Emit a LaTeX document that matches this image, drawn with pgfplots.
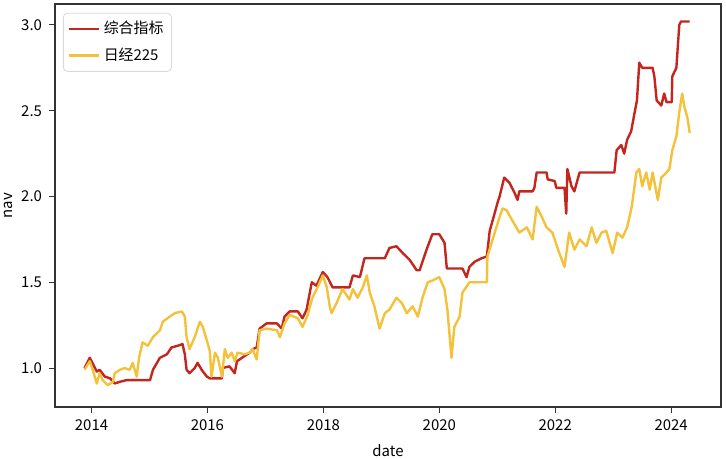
\documentclass[border=0pt]{standalone}
\usepackage{fontspec}
\setmainfont{Noto Sans CJK SC}
\usepackage{pgfplots}
\pgfplotsset{compat=1.18}

\definecolor{navred}{HTML}{C4261D}
\definecolor{nkyellow}{HTML}{F3C13A}

\pgfplotstableread{
year nav
2013.88 1.00
2013.97 1.06
2014.09 0.98
2014.14 0.99
2014.23 0.95
2014.32 0.94
2014.40 0.91
2014.49 0.92
2014.61 0.93
2015.01 0.93
2015.06 0.99
2015.18 1.06
2015.30 1.08
2015.38 1.12
2015.49 1.13
2015.57 1.14
2015.61 1.08
2015.64 0.99
2015.69 0.97
2015.78 1.00
2015.83 1.03
2015.90 0.99
2015.99 0.95
2016.04 0.94
2016.25 0.94
2016.26 1.00
2016.38 1.01
2016.47 0.97
2016.51 1.04
2016.64 1.07
2016.73 1.09
2016.78 1.11
2016.85 1.12
2016.90 1.23
2017.02 1.26
2017.20 1.26
2017.28 1.23
2017.33 1.30
2017.42 1.33
2017.56 1.33
2017.64 1.29
2017.71 1.34
2017.80 1.50
2017.88 1.48
2017.99 1.56
2018.07 1.53
2018.16 1.47
2018.45 1.47
2018.51 1.54
2018.63 1.53
2018.71 1.64
2019.06 1.64
2019.14 1.70
2019.26 1.71
2019.37 1.67
2019.49 1.63
2019.61 1.57
2019.66 1.57
2019.78 1.69
2019.88 1.78
2020.00 1.78
2020.09 1.73
2020.13 1.58
2020.40 1.58
2020.47 1.53
2020.52 1.59
2020.61 1.62
2020.73 1.64
2020.82 1.65
2020.87 1.80
2020.92 1.86
2021.01 1.97
2021.04 2.00
2021.12 2.11
2021.21 2.08
2021.30 2.02
2021.35 1.98
2021.38 2.03
2021.61 2.03
2021.64 2.05
2021.68 2.14
2021.85 2.14
2021.87 2.10
2021.99 2.09
2022.02 2.05
2022.16 2.05
2022.19 1.90
2022.21 2.16
2022.28 2.06
2022.33 2.03
2022.42 2.14
2023.02 2.14
2023.06 2.27
2023.14 2.30
2023.19 2.25
2023.24 2.33
2023.31 2.38
2023.37 2.49
2023.41 2.56
2023.45 2.78
2023.50 2.75
2023.68 2.75
2023.71 2.70
2023.75 2.56
2023.83 2.53
2023.88 2.60
2023.92 2.55
2024.01 2.55
2024.02 2.70
2024.09 2.75
2024.14 3.00
2024.17 3.02
2024.32 3.02
}\composite

\pgfplotstableread{
year nav
2013.88 0.99
2013.97 1.04
2014.02 0.99
2014.09 0.91
2014.14 0.97
2014.19 0.93
2014.28 0.90
2014.37 0.92
2014.40 0.97
2014.49 0.99
2014.57 1.00
2014.66 0.99
2014.71 1.03
2014.78 0.95
2014.82 1.06
2014.88 1.15
2014.97 1.13
2015.06 1.18
2015.18 1.22
2015.23 1.27
2015.35 1.30
2015.44 1.32
2015.56 1.33
2015.61 1.30
2015.64 1.18
2015.69 1.11
2015.78 1.18
2015.87 1.27
2015.92 1.24
2015.99 1.16
2016.04 1.10
2016.07 0.95
2016.13 1.09
2016.18 1.06
2016.25 0.95
2016.30 1.11
2016.35 1.06
2016.42 1.09
2016.47 1.04
2016.52 1.09
2016.64 1.08
2016.73 1.09
2016.78 1.11
2016.85 1.05
2016.90 1.22
2017.02 1.23
2017.20 1.22
2017.25 1.18
2017.33 1.26
2017.42 1.31
2017.56 1.29
2017.64 1.24
2017.73 1.31
2017.81 1.41
2017.90 1.47
2017.99 1.54
2018.06 1.47
2018.11 1.36
2018.14 1.32
2018.23 1.38
2018.33 1.46
2018.45 1.40
2018.51 1.46
2018.59 1.41
2018.68 1.47
2018.75 1.54
2018.80 1.44
2018.88 1.36
2018.97 1.23
2019.06 1.32
2019.14 1.34
2019.26 1.41
2019.35 1.38
2019.44 1.32
2019.54 1.36
2019.63 1.30
2019.71 1.41
2019.80 1.50
2019.88 1.51
2020.00 1.53
2020.09 1.46
2020.14 1.34
2020.21 1.06
2020.26 1.24
2020.35 1.30
2020.40 1.44
2020.52 1.50
2020.82 1.50
2020.83 1.65
2020.92 1.75
2021.04 1.88
2021.09 1.93
2021.16 1.92
2021.26 1.86
2021.38 1.79
2021.51 1.82
2021.61 1.75
2021.68 1.94
2021.77 1.88
2021.85 1.82
2021.95 1.79
2022.07 1.67
2022.16 1.59
2022.24 1.79
2022.33 1.69
2022.42 1.75
2022.54 1.71
2022.63 1.82
2022.71 1.73
2022.80 1.79
2022.88 1.80
2022.99 1.67
2023.07 1.79
2023.16 1.76
2023.24 1.82
2023.32 1.94
2023.40 2.14
2023.45 2.16
2023.50 2.06
2023.57 2.14
2023.63 2.04
2023.68 2.14
2023.77 1.98
2023.83 2.11
2023.92 2.14
2023.97 2.16
2024.02 2.27
2024.09 2.35
2024.14 2.49
2024.19 2.60
2024.23 2.52
2024.28 2.46
2024.32 2.37
}\nikkei

\begin{document}
\begin{tikzpicture}
\useasboundingbox (0,0) rectangle (363bp,229.5bp);
\begin{axis}[
  at={(27.5bp,26bp)}, anchor=south west,
  scale only axis,
  width=333bp, height=201.5bp,
  xmin=2013.37, xmax=2024.86,
  ymin=0.773, ymax=3.122,
  xtick={2014,2016,2018,2020,2022,2024},
  ytick={1.0,1.5,2.0,2.5,3.0},
  x tick label style={/pgf/number format/.cd,1000 sep={},assume math mode=true},
  y tick label style={/pgf/number format/.cd,fixed,fixed zerofill,precision=1,assume math mode=true},
  tick label style={font=\fontsize{7.5}{9}\selectfont},
  label style={font=\fontsize{7.5}{9}\selectfont},
  xlabel={date}, ylabel={nav},
  ylabel style={at={(axis description cs:-0.07,0.5)}, anchor=center},
  tick align=outside, tick pos=left,
  major tick length=3bp,
  every tick/.style={black!80, line width=0.5bp},
  axis line style={black!80, line width=0.6bp},
  legend style={at={(0.012,0.978)}, anchor=north west, draw=black!15,
    rounded corners=2pt, fill=white, font=\fontsize{7.5}{9}\selectfont,
    inner sep=2bp, row sep=1.5bp},
  legend cell align=left,
  legend image code/.code={\draw[#1] (0bp,0bp) -- (15bp,0bp);},
]
\addplot[navred, line width=1.2bp, line join=round] table[x=year,y=nav] {\composite};
\addlegendentry{综合指标}
\addplot[nkyellow, line width=1.2bp, line join=round] table[x=year,y=nav] {\nikkei};
\addlegendentry{日经225}
\end{axis}
\end{tikzpicture}
\end{document}
